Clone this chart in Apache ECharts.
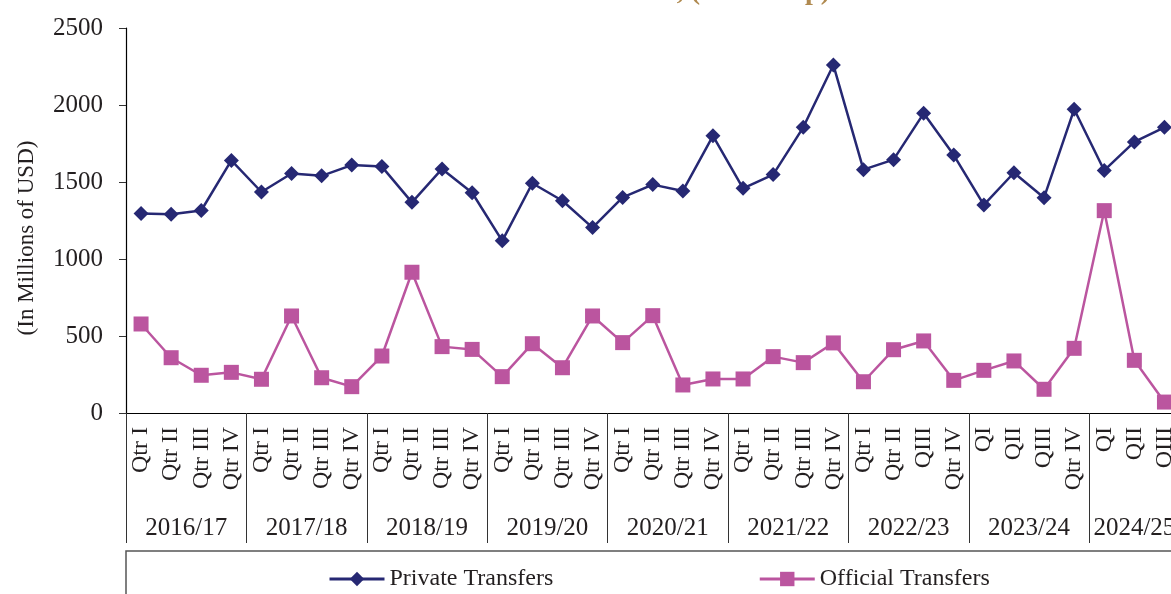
<!DOCTYPE html>
<html>
<head>
<meta charset="utf-8">
<style>
  html, body { margin: 0; padding: 0; background: #fff; }
  #transfers_chart { width: 1171px; height: 594px; }
</style>
<script src="https://cdn.jsdelivr.net/npm/echarts@6/dist/echarts.min.js"></script>
</head>
<body>
<div id="transfers_chart"></div>
<script>

// Data
// ------------------------------

var years = ['2016/17', '2017/18', '2018/19', '2019/20', '2020/21', '2021/22', '2022/23', '2023/24', '2024/25'];
var quartersPerYear = [4, 4, 4, 4, 4, 4, 4, 4, 3];
var quarterLabels = [
    'Qtr I', 'Qtr II', 'Qtr III', 'Qtr IV',
    'Qtr I', 'Qtr II', 'Qtr III', 'Qtr IV',
    'Qtr I', 'Qtr II', 'Qtr III', 'Qtr IV',
    'Qtr I', 'Qtr II', 'Qtr III', 'Qtr IV',
    'Qtr I', 'Qtr II', 'Qtr III', 'Qtr IV',
    'Qtr I', 'Qtr II', 'Qtr III', 'Qtr IV',
    'Qtr I', 'Qtr II', 'QIII', 'Qtr IV',
    'QI', 'QII', 'QIII', 'Qtr IV',
    'QI', 'QII', 'QIII'
];
var privateTransfers = [
    1295, 1290, 1315, 1640, 1435, 1555, 1540, 1610, 1600, 1368, 1585, 1430,
    1118, 1492, 1378, 1204, 1400, 1483, 1442, 1800, 1459, 1548, 1855, 2260,
    1580, 1645, 1946, 1675, 1351, 1560, 1398, 1972, 1575, 1760, 1855
];
var officialTransfers = [
    578, 359, 245, 264, 219, 630, 229, 171, 370, 914, 431, 413,
    236, 450, 294, 630, 457, 632, 182, 221, 221, 366, 327, 455,
    203, 411, 468, 212, 277, 338, 154, 420, 1314, 342, 71
];
var yTicks = [0, 500, 1000, 1500, 2000, 2500];


// Chart
// ------------------------------

var EchartsTransfers = function() {

    var _transfersChart = function() {
        if (typeof echarts == 'undefined') {
            console.warn('Warning - echarts.min.js is not loaded.');
            return;
        }

        var element = document.getElementById('transfers_chart');
        if (!element) return;

        var chart = echarts.init(element);

        // Styles
        var fontFamily = '"Liberation Serif", "Times New Roman", serif',
            textColor = '#231f20',
            axisColor = '#000',
            separatorColor = '#333',
            privateColor = '#262873',
            officialColor = '#bb559f',
            titleColor = '#b08a50';

        // Year row sits on a half-quarter grid (0..2*n) so labels can be centred on groups
        var halfCount = quarterLabels.length * 2;
        var yearData = [];
        for (var i = 0; i <= halfCount; i++) yearData.push('');
        var yearBoundaries = {0: true};
        var pos = 0;
        quartersPerYear.forEach(function(q, k) {
            yearData[pos + q] = years[k];
            pos += q * 2;
            yearBoundaries[pos] = true;
        });

        chart.setOption({

            textStyle: {
                fontFamily: fontFamily,
                color: textColor
            },

            animation: false,

            // Plot runs a little past the right edge, as in the source
            grid: {
                left: 126,
                width: 1053.5,
                top: 28,
                bottom: 181,
                outerBoundsMode: 'none'
            },

            legend: {
                left: 323,
                top: 562,
                itemWidth: 55,
                itemHeight: 18,
                itemGap: 205,
                lineStyle: { width: 3 },
                textStyle: {
                    fontFamily: fontFamily,
                    fontSize: 24,
                    color: textColor
                },
                data: ['Private Transfers', 'Official Transfers']
            },

            xAxis: [
                {
                    type: 'category',
                    data: quarterLabels,
                    axisLine: {
                        lineStyle: { color: axisColor, width: 1.2 }
                    },
                    axisTick: {
                        interval: 0,
                        length: 84,
                        lineStyle: { color: separatorColor, width: 1 }
                    },
                    axisLabel: {
                        interval: 0,
                        rotate: 90,
                        margin: 14,
                        fontSize: 24,
                        fontFamily: fontFamily,
                        color: textColor
                    },
                    splitLine: { show: false }
                },
                {
                    type: 'category',
                    data: yearData,
                    boundaryGap: false,
                    position: 'bottom',
                    axisLine: { show: false },
                    axisTick: {
                        interval: function(index) { return !!yearBoundaries[index]; },
                        length: 130,
                        lineStyle: { color: separatorColor, width: 1 }
                    },
                    axisLabel: {
                        interval: function(index) { return yearData[index] !== ''; },
                        margin: 103,
                        fontSize: 25,
                        fontFamily: fontFamily,
                        color: textColor
                    },
                    splitLine: { show: false }
                }
            ],

            yAxis: {
                type: 'value',
                min: yTicks[0],
                max: yTicks[yTicks.length - 1],
                interval: 500,
                axisLine: {
                    show: true,
                    lineStyle: { color: axisColor, width: 1.2 }
                },
                axisTick: {
                    show: true,
                    length: 7,
                    lineStyle: { color: separatorColor }
                },
                axisLabel: {
                    margin: 23,
                    fontSize: 25,
                    fontFamily: fontFamily,
                    color: textColor,
                    formatter: function(v) { return String(v); }
                },
                splitLine: { show: false }
            },

            graphic: [
                {
                    type: 'text',
                    x: 27,
                    y: 238,
                    rotation: Math.PI / 2,
                    style: {
                        text: '(In Millions of USD)',
                        fontFamily: fontFamily,
                        fontSize: 23,
                        fill: textColor,
                        align: 'center',
                        verticalAlign: 'middle'
                    }
                },
                {
                    type: 'text',
                    x: 830,
                    y: 6,
                    style: {
                        text: 'Private and Official Transfers, (Amount p)',
                        fontFamily: fontFamily,
                        fontWeight: 'bold',
                        fontSize: 28,
                        fill: titleColor,
                        align: 'right',
                        verticalAlign: 'bottom'
                    }
                },
                {
                    type: 'rect',
                    shape: { x: 126, y: 551, width: 1100, height: 100 },
                    style: { fill: 'none', stroke: '#555', lineWidth: 1.5 },
                    silent: true
                }
            ],

            series: [
                {
                    name: 'Private Transfers',
                    type: 'line',
                    data: privateTransfers,
                    symbol: 'diamond',
                    symbolSize: 15,
                    lineStyle: { color: privateColor, width: 2.5 },
                    itemStyle: { color: privateColor }
                },
                {
                    name: 'Official Transfers',
                    type: 'line',
                    data: officialTransfers,
                    symbol: 'rect',
                    symbolSize: 15,
                    lineStyle: { color: officialColor, width: 2.5 },
                    itemStyle: { color: officialColor }
                }
            ]
        });

        window.addEventListener('resize', function() {
            chart.resize();
        });
    };

    return {
        init: function() {
            _transfersChart();
        }
    };
}();

document.addEventListener('DOMContentLoaded', function() {
    EchartsTransfers.init();
});
</script>
</body>
</html>
